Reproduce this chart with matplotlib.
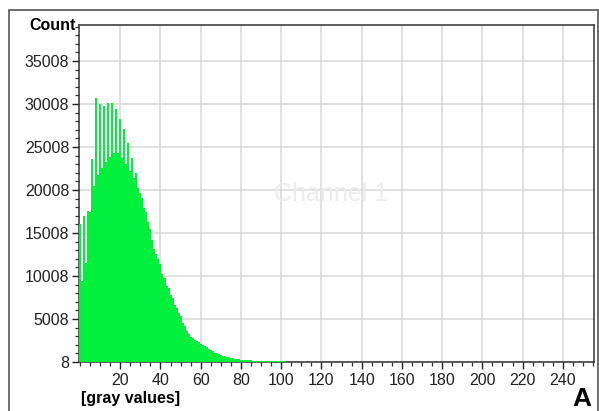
import numpy as np
import matplotlib
matplotlib.use('Agg')
from matplotlib import pyplot as plt
from matplotlib.ticker import FixedLocator, MultipleLocator
from matplotlib.patches import Rectangle

## Data: counts per gray value
counts_head = [
    16100, 9400, 17000, 11500, 17600, 17500, 23600, 20500, 30700, 21800,
    30000, 22600, 29800, 23300, 30100, 23900, 30100, 24300, 29400, 24300,
    28300, 23700, 27100, 23000, 25450, 22200, 23700, 21400, 22000, 20200,
    19650, 19100, 17900, 17500, 16300, 15500, 14200, 13200, 12600, 12000,
    11400, 10300, 9770, 8900, 8600, 7800, 7450, 6600, 6290, 5700,
    5300, 4600, 4200, 3600, 3300, 2900, 2800, 2600, 2450, 2300,
    2150, 2000, 1850, 1700, 1550, 1400, 1250, 1100, 1000, 900,
    820, 740, 670, 600, 540, 480, 430, 390, 350, 310,
    280, 260, 240, 220, 205, 190, 175, 165, 155, 145,
    135, 128, 120, 112, 105, 100, 95, 90, 85, 80,
    76, 72, 68, 64, 60, 57, 54, 51, 48, 46,
    44, 42, 40, 38, 36, 34, 32, 30, 28, 26,
]
counts_tail = [0] * (256 - len(counts_head))
counts = counts_head + counts_tail
gray = list(range(256))

y_ticks = [8, 5008, 10008, 15008, 20008, 25008, 30008, 35008]
x_ticks = [20, 40, 60, 80, 100, 120, 140, 160, 180, 200, 220, 240]

W, H = 599, 411
fig = plt.figure(figsize=(W / 100, H / 100), dpi=100)
plt.rcParams['font.family'] = ['Liberation Sans', 'DejaVu Sans']

# outer frame of the panel
fig.patches.append(Rectangle((9 / W, -0.01), 589 / W, (H - 10) / H + 0.01,
                             transform=fig.transFigure, fill=False,
                             edgecolor='#555555', linewidth=1.2))

ax = fig.add_axes([79 / W, (H - 362) / H, (594 - 79) / W, (362 - 25) / H])
ax.bar(gray, counts, width=1.0, color='#00f03c', linewidth=0, zorder=3)

ax.set_xlim(-0.5, 255.5)
ax.set_ylim(8, 39200)

ax.xaxis.set_major_locator(FixedLocator(x_ticks))
ax.xaxis.set_minor_locator(MultipleLocator(5))
ax.yaxis.set_major_locator(FixedLocator(y_ticks))
ax.yaxis.set_minor_locator(FixedLocator([8 + 1000 * i for i in range(40)]))

ax.tick_params(axis='both', which='major', labelsize=11.5, colors='#222222',
               length=5, width=1)
ax.tick_params(axis='both', which='minor', length=3, width=0.9, colors='#333333')
ax.tick_params(axis='x', pad=3)
ax.tick_params(axis='y', pad=2)

ax.grid(True, which='major', color='#d9d9d9', linewidth=1.1, zorder=0)
ax.set_axisbelow(True)
for s in ax.spines.values():
    s.set_color('#333333')
    s.set_linewidth(1.1)

# faint watermark
ax.text(0.49, 0.5, 'Channel 1', transform=ax.transAxes, fontsize=18,
        color='#ececec', ha='center', va='center', zorder=1)

fig.text(76 / W, 1 - 25 / H, 'Count', fontsize=11.5, fontweight='bold',
         ha='right', va='center')
fig.text(81 / W, 1 - 398 / H, '[gray values]', fontsize=11.5,
         fontweight='bold', ha='left', va='center')
fig.text(582 / W, 1 - 399 / H, 'A', fontsize=19, fontweight='bold',
         ha='center', va='center')

fig.savefig('out.png', dpi=100)
